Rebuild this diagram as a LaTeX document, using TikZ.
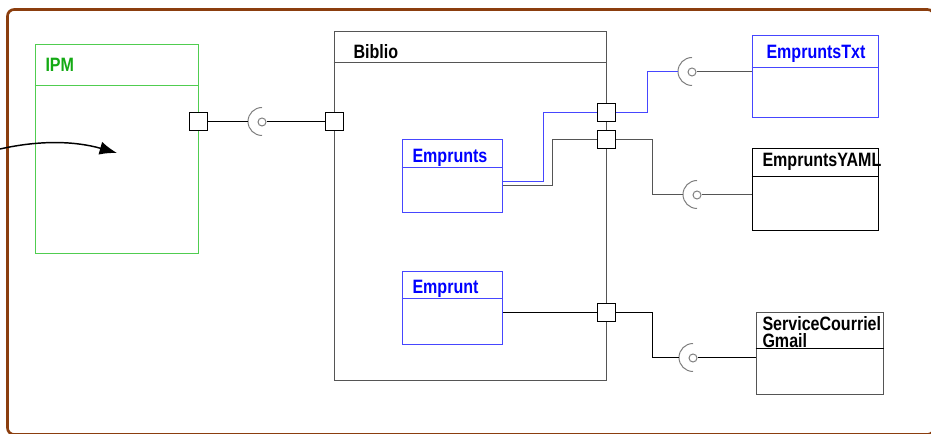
\documentclass[tikz,border=0pt]{standalone}
\usepackage{fontspec}
\newfontfamily\umlfont[FakeStretch=0.83]{Liberation Sans}
\usepackage{tikz}
\usetikzlibrary{arrows.meta,positioning,calc,fit}
\definecolor{framebrown}{RGB}{139,62,14}
\definecolor{ipmgreen}{RGB}{80,205,80}
\definecolor{ipmtext}{RGB}{20,170,20}
\definecolor{clsblue}{RGB}{70,70,255}
\definecolor{wiregray}{RGB}{85,85,85}

\begin{document}
\begin{tikzpicture}[x=0.75pt, y=-0.75pt, line width=0.75pt,
    every node/.style={font=\umlfont\bfseries\fontsize{14.5}{12.9}\selectfont},
    classbox/.style={draw, fit={#1}, inner sep=0pt},
    title/.style={anchor=base west, inner sep=0pt, align=left},
    port/.style={draw, fill=white, minimum size=13.5pt, inner sep=0pt},
    socket/.style={circle, minimum size=21pt, inner sep=0pt},
    ball/.style={draw=gray, circle, minimum size=6pt, inner sep=0pt}]
\clip (0,0) rectangle (931,434);
% --- outer frame ---
\draw[framebrown, line width=2pt, rounded corners=5pt] (7.5,9.5) rectangle (934,434.5);

% --- IPM (left) ---
\node[classbox={(35,45) (198,254)}, draw=ipmgreen] (ipm) {};
\draw[ipmgreen] (ipm.west |- 0,86) -- (ipm.east |- 0,86);
\node[title, text=ipmtext] (ipmtitle) at (45,72) {IPM};
\coordinate (flowin) at (0,149);
\coordinate (flowtip) at (117,153);
\draw[line width=1.1pt, -{Latex[length=13pt, width=10pt]}] (flowin) .. controls (40,140) and (75,141) .. (flowtip);

% --- Biblio (middle) ---
\node[classbox={(334,32) (606,380)}, draw=wiregray] (biblio) {};
\draw[wiregray] (biblio.west |- 0,63) -- (biblio.east |- 0,63);
\node[title] (bibliotitle) at (353,59) {Biblio};
% Emprunts / Emprunt
\node[classbox={(402,140) (502,213)}, draw=clsblue] (emprunts) {};
\draw[clsblue] (emprunts.west |- 0,168) -- (emprunts.east |- 0,168);
\node[title, text=blue] (empruntstitle) at (412,163) {Emprunts};
\node[classbox={(402,272) (502,345)}, draw=clsblue] (emprunt) {};
\draw[clsblue] (emprunt.west |- 0,299) -- (emprunt.east |- 0,299);
\node[title, text=blue] (emprunttitle) at (412,294) {Emprunt};

% --- right side classes ---
\node[classbox={(752,36) (878,118)}, draw=clsblue] (txt) {};
\draw[clsblue] (txt.west |- 0,68) -- (txt.east |- 0,68);
\node[title, text=blue] (txttitle) at (766,59) {EmpruntsTxt};
\node[classbox={(752,149) (878,231)}] (yaml) {};
\draw (yaml.west |- 0,177) -- (yaml.east |- 0,177);
\node[title] (yamltitle) at (762,167) {EmpruntsYAML};
\node[classbox={(756,313) (883,394)}, draw=wiregray] (gmail) {};
\draw (gmail.west |- 0,349) -- (gmail.east |- 0,349);
\node[title] (gmailtitle) at (762,348) {ServiceCourriel\\Gmail};

% --- ports ---
\node[port] (ipmport) at (198,122) {};
\node[port] (bibin) at (334,122) {};
\node[port] (pout1) at (606,113) {};
\node[port] (pout2) at (606,140) {};
\node[port] (pout3) at (606,313) {};

% --- sockets (ball + cup) ---
\node[socket] (s1) at (262,122) {};
\node[socket] (s2) at (692,72) {};
\node[socket] (s3) at (697,195) {};
\node[socket] (s4) at (693,358) {};
\foreach \s in {1,2,3,4} {
    \node[ball] (b\s) at (s\s.center) {};
    \draw[gray] (s\s.north) arc[start angle=90, end angle=270, radius=10.5pt];
}

% --- wires ---
\draw (ipmport) -- (s1.west);
\draw (b1) -- (bibin);
\draw[clsblue] ([yshift=-3.4pt]emprunts.east) -- ++(41,0) |- (pout1);
\draw[wiregray] ([yshift=-7.1pt]emprunts.east) -- ++(50,0) |- (pout2);
\draw (emprunt.east |- pout3) -- (pout3);
\draw[clsblue] (pout1) -- ++(41,0) |- (s2.west);
\draw[wiregray] (b2) -- (txt.west |- b2);
\draw[wiregray] (pout2) -- ++(46,0) |- (s3.west);
\draw[wiregray] (b3) -- (yaml.west |- b3);
\draw (pout3) -- ++(46,0) |- (s4.west);
\draw (b4) -- (gmail.west |- b4);
\end{tikzpicture}
\end{document}
